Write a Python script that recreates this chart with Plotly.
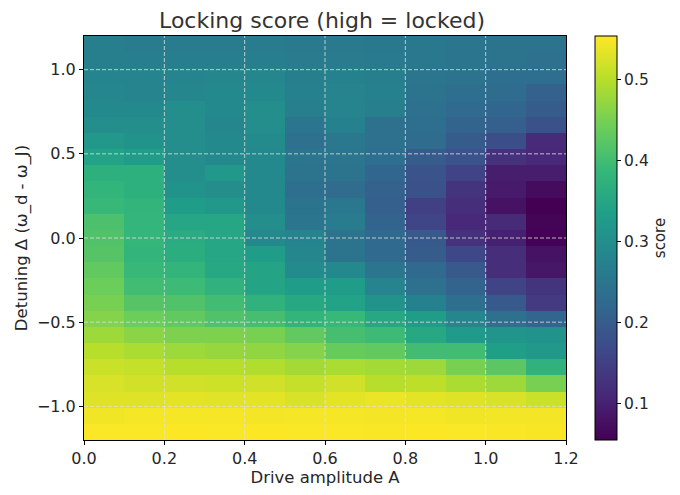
import numpy as np
import plotly.graph_objects as go

# Grid coordinates (cell centers)
amplitude_edges = np.linspace(0.0, 1.2, 13)
amplitudes = (amplitude_edges[:-1] + amplitude_edges[1:]) / 2
detuning_edges = np.linspace(-1.2, 1.2, 26)
detunings = (detuning_edges[:-1] + detuning_edges[1:]) / 2

# Locking score, rows from bottom (Δ=-1.2) to top (Δ=1.2), columns A=0..1.2
score_r00 = [0.552, 0.552, 0.553, 0.552, 0.553, 0.552, 0.552, 0.551, 0.553, 0.552, 0.551, 0.550]
score_r01 = [0.545, 0.548, 0.548, 0.549, 0.547, 0.548, 0.548, 0.547, 0.548, 0.545, 0.546, 0.547]
score_r02 = [0.530, 0.530, 0.535, 0.532, 0.535, 0.525, 0.535, 0.540, 0.535, 0.530, 0.525, 0.515]
score_r03 = [0.525, 0.520, 0.520, 0.518, 0.520, 0.510, 0.520, 0.500, 0.505, 0.490, 0.480, 0.450]
score_r04 = [0.515, 0.510, 0.500, 0.500, 0.495, 0.485, 0.490, 0.485, 0.480, 0.450, 0.425, 0.375]
score_r05 = [0.500, 0.490, 0.480, 0.475, 0.470, 0.460, 0.435, 0.430, 0.400, 0.400, 0.335, 0.320]
score_r06 = [0.480, 0.465, 0.455, 0.455, 0.450, 0.430, 0.405, 0.395, 0.355, 0.325, 0.315, 0.310]
score_r07 = [0.460, 0.440, 0.430, 0.415, 0.405, 0.380, 0.390, 0.355, 0.330, 0.285, 0.240, 0.220]
score_r08 = [0.450, 0.420, 0.415, 0.400, 0.375, 0.355, 0.340, 0.310, 0.275, 0.235, 0.195, 0.140]
score_r09 = [0.440, 0.400, 0.395, 0.375, 0.345, 0.330, 0.330, 0.280, 0.240, 0.215, 0.155, 0.130]
score_r10 = [0.430, 0.390, 0.380, 0.355, 0.345, 0.295, 0.290, 0.250, 0.225, 0.195, 0.120, 0.085]
score_r11 = [0.420, 0.380, 0.365, 0.350, 0.330, 0.285, 0.245, 0.225, 0.200, 0.165, 0.120, 0.080]
score_r12 = [0.415, 0.385, 0.360, 0.350, 0.290, 0.280, 0.245, 0.225, 0.195, 0.125, 0.100, 0.058]
score_r13 = [0.410, 0.385, 0.350, 0.350, 0.300, 0.250, 0.265, 0.215, 0.160, 0.110, 0.115, 0.060]
score_r14 = [0.390, 0.380, 0.330, 0.320, 0.290, 0.245, 0.255, 0.205, 0.150, 0.120, 0.080, 0.055]
score_r15 = [0.380, 0.370, 0.310, 0.300, 0.290, 0.235, 0.230, 0.210, 0.180, 0.130, 0.090, 0.070]
score_r16 = [0.370, 0.370, 0.300, 0.320, 0.290, 0.245, 0.245, 0.220, 0.185, 0.155, 0.095, 0.095]
score_r17 = [0.340, 0.330, 0.300, 0.290, 0.290, 0.250, 0.250, 0.235, 0.200, 0.185, 0.125, 0.110]
score_r18 = [0.320, 0.310, 0.300, 0.290, 0.295, 0.240, 0.255, 0.240, 0.230, 0.200, 0.175, 0.115]
score_r19 = [0.300, 0.300, 0.300, 0.285, 0.300, 0.250, 0.275, 0.240, 0.235, 0.215, 0.205, 0.180]
score_r20 = [0.290, 0.290, 0.300, 0.290, 0.300, 0.270, 0.280, 0.270, 0.240, 0.225, 0.220, 0.200]
score_r21 = [0.285, 0.280, 0.285, 0.290, 0.290, 0.275, 0.280, 0.275, 0.245, 0.235, 0.230, 0.210]
score_r22 = [0.280, 0.280, 0.280, 0.285, 0.285, 0.270, 0.275, 0.270, 0.250, 0.245, 0.235, 0.235]
score_r23 = [0.270, 0.270, 0.270, 0.270, 0.270, 0.265, 0.265, 0.260, 0.255, 0.250, 0.245, 0.240]
score_r24 = [0.270, 0.265, 0.265, 0.265, 0.265, 0.260, 0.260, 0.255, 0.255, 0.250, 0.245, 0.245]

score = [score_r00, score_r01, score_r02, score_r03, score_r04, score_r05, score_r06,
         score_r07, score_r08, score_r09, score_r10, score_r11, score_r12, score_r13,
         score_r14, score_r15, score_r16, score_r17, score_r18, score_r19, score_r20,
         score_r21, score_r22, score_r23, score_r24]

x_ticks = [0.0, 0.2, 0.4, 0.6, 0.8, 1.0, 1.2]
y_ticks = [-1.0, -0.5, 0.0, 0.5, 1.0]
cbar_ticks = [0.1, 0.2, 0.3, 0.4, 0.5]

FONT = "DejaVu Sans"
TXT = "#262626"
GRID = "rgba(225,225,225,0.8)"

fig = go.Figure(go.Heatmap(
    x=amplitudes, y=detunings, z=score,
    colorscale="Viridis", zmin=0.055, zmax=0.554,
    colorbar=dict(
        title=dict(text="score", side="right", font=dict(size=15, family=FONT, color=TXT)),
        thickness=22, thicknessmode="pixels", len=1.0, lenmode="fraction",
        x=(595 - 80) / 486, xanchor="left", y=0.5, yanchor="middle", xpad=0, ypad=0,
        outlinewidth=1, outlinecolor="black",
        tickvals=cbar_ticks, ticktext=[f"{t:.1f}" for t in cbar_ticks],
        ticks="outside", ticklen=4, tickcolor="black",
        tickfont=dict(size=15.5, family=FONT, color=TXT),
    ),
))

# dashed grid drawn above the heatmap (as matplotlib does)
grid_line = dict(color=GRID, width=1, dash="4px,2px")
for xv in x_ticks[1:-1]:
    fig.add_shape(type="line", xref="x", yref="paper", x0=xv, x1=xv, y0=0, y1=1,
                  line=grid_line, layer="above")
for yv in y_ticks:
    fig.add_shape(type="line", xref="paper", yref="y", x0=0, x1=1, y0=yv, y1=yv,
                  line=grid_line, layer="above")

# page body adds an 8px offset; compensate so the plot lands at x 80-566, y 36-440
fig.update_layout(
    width=680, height=495,
    margin=dict(l=72, r=122, t=28, b=63),
    paper_bgcolor="white", plot_bgcolor="white",
    title=dict(text="Locking score (high = locked)", x=314 / 680, xanchor="center",
               y=1 - 12.5 / 495, yanchor="middle", font=dict(size=22, family=FONT, color="#333333")),
    font=dict(family=FONT, color=TXT),
)
fig.update_xaxes(
    range=[0, 1.2], tickvals=x_ticks, ticktext=[f"{t:.1f}" for t in x_ticks],
    showline=True, mirror=True, linecolor="black", linewidth=1,
    ticks="outside", ticklen=4, tickcolor="black",
    showgrid=False, layer="above traces", zeroline=False,
    title=dict(text="Drive amplitude A", font=dict(size=16.5, family=FONT, color=TXT), standoff=4),
    tickfont=dict(size=16, family=FONT, color=TXT),
)
fig.update_yaxes(
    range=[-1.2, 1.2], tickvals=y_ticks, ticktext=[f"{t:.1f}".replace("-", "\u2212") for t in y_ticks],
    showline=True, mirror=True, linecolor="black", linewidth=1,
    ticks="outside", ticklen=4, tickcolor="black",
    showgrid=False, layer="above traces", zeroline=False,
    title=dict(text="Detuning Δ (ω_d - ω_J)", font=dict(size=16.5, family=FONT, color=TXT), standoff=5),
    tickfont=dict(size=16, family=FONT, color=TXT),
)

fig.write_html("out.html")
